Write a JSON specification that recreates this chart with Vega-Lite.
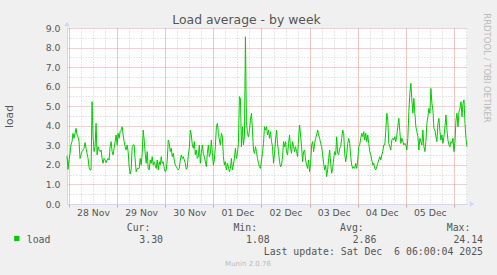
{
"$schema":"https://vega.github.io/schema/vega-lite/v6.json",
"width":400,"height":176,
"autosize":{"type":"none"},
"padding":{"left":67,"top":28,"right":30,"bottom":71},
"background":"#F0F0F0",
"config":{"view":{"fill":"#FFFFFF","stroke":null}},
"data":{"values":[
{"t":"2025-11-27T23:00","v":2.47},{"t":"2025-11-27T23:30","v":1.77},
{"t":"2025-11-28T00:00","v":2.25},{"t":"2025-11-28T00:30","v":2.59},{"t":"2025-11-28T01:00","v":3.02},{"t":"2025-11-28T01:30","v":3.19},{"t":"2025-11-28T02:00","v":3.61},{"t":"2025-11-28T02:30","v":3.36},{"t":"2025-11-28T03:00","v":3.61},{"t":"2025-11-28T03:30","v":3.87},{"t":"2025-11-28T04:00","v":3.53},{"t":"2025-11-28T04:30","v":3.44},{"t":"2025-11-28T05:00","v":3.19},{"t":"2025-11-28T05:30","v":2.33},{"t":"2025-11-28T06:00","v":2.51},{"t":"2025-11-28T06:30","v":2.68},{"t":"2025-11-28T07:00","v":2.76},{"t":"2025-11-28T07:30","v":2.85},{"t":"2025-11-28T08:00","v":3.14},{"t":"2025-11-28T08:30","v":2.85},{"t":"2025-11-28T09:00","v":2.59},{"t":"2025-11-28T09:30","v":2.33},{"t":"2025-11-28T10:00","v":1.87},{"t":"2025-11-28T10:30","v":1.74},{"t":"2025-11-28T11:00","v":1.74},{"t":"2025-11-28T11:30","v":5.23},{"t":"2025-11-28T12:00","v":3.44},{"t":"2025-11-28T12:30","v":2.68},{"t":"2025-11-28T13:00","v":2.93},{"t":"2025-11-28T13:30","v":4.12},{"t":"2025-11-28T14:00","v":2.51},{"t":"2025-11-28T14:30","v":2.93},{"t":"2025-11-28T15:00","v":2.76},{"t":"2025-11-28T15:30","v":2.68},{"t":"2025-11-28T16:00","v":2.76},{"t":"2025-11-28T16:30","v":2.33},{"t":"2025-11-28T17:00","v":2.08},{"t":"2025-11-28T17:30","v":2.33},{"t":"2025-11-28T18:00","v":2.25},{"t":"2025-11-28T18:30","v":2.11},{"t":"2025-11-28T19:00","v":2.25},{"t":"2025-11-28T19:30","v":2.33},{"t":"2025-11-28T20:00","v":2.25},{"t":"2025-11-28T20:30","v":2.93},{"t":"2025-11-28T21:00","v":3.19},{"t":"2025-11-28T21:30","v":2.68},{"t":"2025-11-28T22:00","v":2.51},{"t":"2025-11-28T22:30","v":2.85},{"t":"2025-11-28T23:00","v":3.19},{"t":"2025-11-28T23:30","v":3.53},
{"t":"2025-11-29T00:00","v":3.02},{"t":"2025-11-29T00:30","v":3.61},{"t":"2025-11-29T01:00","v":3.36},{"t":"2025-11-29T01:30","v":3.70},{"t":"2025-11-29T02:00","v":3.78},{"t":"2025-11-29T02:30","v":3.95},{"t":"2025-11-29T03:00","v":3.53},{"t":"2025-11-29T03:30","v":3.19},{"t":"2025-11-29T04:00","v":2.93},{"t":"2025-11-29T04:30","v":2.76},{"t":"2025-11-29T05:00","v":3.02},{"t":"2025-11-29T05:30","v":2.68},{"t":"2025-11-29T06:00","v":1.91},{"t":"2025-11-29T06:30","v":1.53},{"t":"2025-11-29T07:00","v":1.74},{"t":"2025-11-29T07:30","v":2.93},{"t":"2025-11-29T08:00","v":3.02},{"t":"2025-11-29T08:30","v":3.02},{"t":"2025-11-29T09:00","v":2.25},{"t":"2025-11-29T09:30","v":1.65},{"t":"2025-11-29T10:00","v":1.82},{"t":"2025-11-29T10:30","v":1.82},{"t":"2025-11-29T11:00","v":1.82},{"t":"2025-11-29T11:30","v":2.33},{"t":"2025-11-29T12:00","v":1.99},{"t":"2025-11-29T12:30","v":2.59},{"t":"2025-11-29T13:00","v":3.78},{"t":"2025-11-29T13:30","v":3.27},{"t":"2025-11-29T14:00","v":2.59},{"t":"2025-11-29T14:30","v":2.08},{"t":"2025-11-29T15:00","v":2.68},{"t":"2025-11-29T15:30","v":1.82},{"t":"2025-11-29T16:00","v":1.74},{"t":"2025-11-29T16:30","v":2.25},{"t":"2025-11-29T17:00","v":2.08},{"t":"2025-11-29T17:30","v":2.42},{"t":"2025-11-29T18:00","v":1.99},{"t":"2025-11-29T18:30","v":2.16},{"t":"2025-11-29T19:00","v":1.99},{"t":"2025-11-29T19:30","v":1.82},{"t":"2025-11-29T20:00","v":2.25},{"t":"2025-11-29T20:30","v":1.74},{"t":"2025-11-29T21:00","v":2.16},{"t":"2025-11-29T21:30","v":1.99},{"t":"2025-11-29T22:00","v":2.42},{"t":"2025-11-29T22:30","v":2.08},{"t":"2025-11-29T23:00","v":2.16},{"t":"2025-11-29T23:30","v":1.82},
{"t":"2025-11-30T00:00","v":1.65},{"t":"2025-11-30T00:30","v":1.74},{"t":"2025-11-30T01:00","v":2.25},{"t":"2025-11-30T01:30","v":3.27},{"t":"2025-11-30T02:00","v":3.10},{"t":"2025-11-30T02:30","v":2.68},{"t":"2025-11-30T03:00","v":2.85},{"t":"2025-11-30T03:30","v":2.42},{"t":"2025-11-30T04:00","v":2.59},{"t":"2025-11-30T04:30","v":2.25},{"t":"2025-11-30T05:00","v":1.99},{"t":"2025-11-30T05:30","v":1.91},{"t":"2025-11-30T06:00","v":1.82},{"t":"2025-11-30T06:30","v":1.74},{"t":"2025-11-30T07:00","v":1.82},{"t":"2025-11-30T07:30","v":2.25},{"t":"2025-11-30T08:00","v":2.51},{"t":"2025-11-30T08:30","v":2.33},{"t":"2025-11-30T09:00","v":2.42},{"t":"2025-11-30T09:30","v":2.25},{"t":"2025-11-30T10:00","v":2.08},{"t":"2025-11-30T10:30","v":1.77},{"t":"2025-11-30T11:00","v":1.87},{"t":"2025-11-30T11:30","v":2.51},{"t":"2025-11-30T12:00","v":2.85},{"t":"2025-11-30T12:30","v":3.78},{"t":"2025-11-30T13:00","v":3.53},{"t":"2025-11-30T13:30","v":3.02},{"t":"2025-11-30T14:00","v":2.85},{"t":"2025-11-30T14:30","v":3.19},{"t":"2025-11-30T15:00","v":2.51},{"t":"2025-11-30T15:30","v":2.76},{"t":"2025-11-30T16:00","v":2.33},{"t":"2025-11-30T16:30","v":2.42},{"t":"2025-11-30T17:00","v":3.02},{"t":"2025-11-30T17:30","v":2.08},{"t":"2025-11-30T18:00","v":2.59},{"t":"2025-11-30T18:30","v":3.02},{"t":"2025-11-30T19:00","v":2.59},{"t":"2025-11-30T19:30","v":2.42},{"t":"2025-11-30T20:00","v":2.16},{"t":"2025-11-30T20:30","v":1.91},{"t":"2025-11-30T21:00","v":2.59},{"t":"2025-11-30T21:30","v":3.02},{"t":"2025-11-30T22:00","v":2.42},{"t":"2025-11-30T22:30","v":2.59},{"t":"2025-11-30T23:00","v":3.27},{"t":"2025-11-30T23:30","v":2.59},
{"t":"2025-12-01T00:00","v":1.99},{"t":"2025-12-01T00:30","v":2.25},{"t":"2025-12-01T01:00","v":2.93},{"t":"2025-12-01T01:30","v":3.95},{"t":"2025-12-01T02:00","v":4.12},{"t":"2025-12-01T02:30","v":3.61},{"t":"2025-12-01T03:00","v":3.27},{"t":"2025-12-01T03:30","v":3.02},{"t":"2025-12-01T04:00","v":3.61},{"t":"2025-12-01T04:30","v":3.44},{"t":"2025-12-01T05:00","v":2.42},{"t":"2025-12-01T05:30","v":1.99},{"t":"2025-12-01T06:00","v":2.16},{"t":"2025-12-01T06:30","v":1.74},{"t":"2025-12-01T07:00","v":2.08},{"t":"2025-12-01T07:30","v":1.91},{"t":"2025-12-01T08:00","v":1.65},{"t":"2025-12-01T08:30","v":1.82},{"t":"2025-12-01T09:00","v":2.33},{"t":"2025-12-01T09:30","v":1.74},{"t":"2025-12-01T10:00","v":1.99},{"t":"2025-12-01T10:30","v":2.33},{"t":"2025-12-01T11:00","v":2.85},{"t":"2025-12-01T11:30","v":2.33},{"t":"2025-12-01T12:00","v":2.59},{"t":"2025-12-01T12:30","v":3.10},{"t":"2025-12-01T13:00","v":5.49},{"t":"2025-12-01T13:30","v":5.40},{"t":"2025-12-01T14:00","v":2.93},{"t":"2025-12-01T14:30","v":3.95},{"t":"2025-12-01T15:00","v":3.02},{"t":"2025-12-01T15:30","v":3.44},{"t":"2025-12-01T16:00","v":8.55},{"t":"2025-12-01T16:30","v":4.21},{"t":"2025-12-01T17:00","v":3.61},{"t":"2025-12-01T17:30","v":3.44},{"t":"2025-12-01T18:00","v":3.78},{"t":"2025-12-01T18:30","v":4.29},{"t":"2025-12-01T19:00","v":4.64},{"t":"2025-12-01T19:30","v":3.78},{"t":"2025-12-01T20:00","v":2.76},{"t":"2025-12-01T20:30","v":2.59},{"t":"2025-12-01T21:00","v":2.93},{"t":"2025-12-01T21:30","v":2.68},{"t":"2025-12-01T22:00","v":2.33},{"t":"2025-12-01T22:30","v":2.08},{"t":"2025-12-01T23:00","v":1.91},{"t":"2025-12-01T23:30","v":1.82},
{"t":"2025-12-02T00:00","v":2.25},{"t":"2025-12-02T00:30","v":2.59},{"t":"2025-12-02T01:00","v":3.10},{"t":"2025-12-02T01:30","v":3.95},{"t":"2025-12-02T02:00","v":3.78},{"t":"2025-12-02T02:30","v":3.95},{"t":"2025-12-02T03:00","v":3.53},{"t":"2025-12-02T03:30","v":3.78},{"t":"2025-12-02T04:00","v":3.36},{"t":"2025-12-02T04:30","v":3.70},{"t":"2025-12-02T05:00","v":3.19},{"t":"2025-12-02T05:30","v":2.93},{"t":"2025-12-02T06:00","v":2.08},{"t":"2025-12-02T06:30","v":2.59},{"t":"2025-12-02T07:00","v":3.27},{"t":"2025-12-02T07:30","v":3.78},{"t":"2025-12-02T08:00","v":3.10},{"t":"2025-12-02T08:30","v":2.68},{"t":"2025-12-02T09:00","v":2.16},{"t":"2025-12-02T09:30","v":1.91},{"t":"2025-12-02T10:00","v":1.99},{"t":"2025-12-02T10:30","v":2.42},{"t":"2025-12-02T11:00","v":3.19},{"t":"2025-12-02T11:30","v":2.93},{"t":"2025-12-02T12:00","v":3.19},{"t":"2025-12-02T12:30","v":2.68},{"t":"2025-12-02T13:00","v":2.51},{"t":"2025-12-02T13:30","v":3.10},{"t":"2025-12-02T14:00","v":3.53},{"t":"2025-12-02T14:30","v":2.85},{"t":"2025-12-02T15:00","v":2.59},{"t":"2025-12-02T15:30","v":3.19},{"t":"2025-12-02T16:00","v":2.93},{"t":"2025-12-02T16:30","v":2.68},{"t":"2025-12-02T17:00","v":2.93},{"t":"2025-12-02T17:30","v":2.68},{"t":"2025-12-02T18:00","v":2.42},{"t":"2025-12-02T18:30","v":3.36},{"t":"2025-12-02T19:00","v":4.04},{"t":"2025-12-02T19:30","v":3.53},{"t":"2025-12-02T20:00","v":2.93},{"t":"2025-12-02T20:30","v":2.16},{"t":"2025-12-02T21:00","v":2.68},{"t":"2025-12-02T21:30","v":2.76},{"t":"2025-12-02T22:00","v":2.25},{"t":"2025-12-02T22:30","v":1.99},{"t":"2025-12-02T23:00","v":1.82},{"t":"2025-12-02T23:30","v":2.25},
{"t":"2025-12-03T00:00","v":1.65},{"t":"2025-12-03T00:30","v":2.08},{"t":"2025-12-03T01:00","v":3.02},{"t":"2025-12-03T01:30","v":3.19},{"t":"2025-12-03T02:00","v":2.68},{"t":"2025-12-03T02:30","v":3.10},{"t":"2025-12-03T03:00","v":3.36},{"t":"2025-12-03T03:30","v":3.53},{"t":"2025-12-03T04:00","v":3.78},{"t":"2025-12-03T04:30","v":3.53},{"t":"2025-12-03T05:00","v":3.36},{"t":"2025-12-03T05:30","v":3.10},{"t":"2025-12-03T06:00","v":2.93},{"t":"2025-12-03T06:30","v":2.51},{"t":"2025-12-03T07:00","v":2.08},{"t":"2025-12-03T07:30","v":1.74},{"t":"2025-12-03T08:00","v":1.99},{"t":"2025-12-03T08:30","v":1.40},{"t":"2025-12-03T09:00","v":1.74},{"t":"2025-12-03T09:30","v":2.33},{"t":"2025-12-03T10:00","v":2.76},{"t":"2025-12-03T10:30","v":2.08},{"t":"2025-12-03T11:00","v":1.57},{"t":"2025-12-03T11:30","v":1.82},{"t":"2025-12-03T12:00","v":2.33},{"t":"2025-12-03T12:30","v":2.68},{"t":"2025-12-03T13:00","v":2.51},{"t":"2025-12-03T13:30","v":3.44},{"t":"2025-12-03T14:00","v":2.59},{"t":"2025-12-03T14:30","v":2.51},{"t":"2025-12-03T15:00","v":2.85},{"t":"2025-12-03T15:30","v":2.93},{"t":"2025-12-03T16:00","v":3.36},{"t":"2025-12-03T16:30","v":3.78},{"t":"2025-12-03T17:00","v":3.61},{"t":"2025-12-03T17:30","v":2.59},{"t":"2025-12-03T18:00","v":2.16},{"t":"2025-12-03T18:30","v":2.51},{"t":"2025-12-03T19:00","v":3.10},{"t":"2025-12-03T19:30","v":3.36},{"t":"2025-12-03T20:00","v":3.10},{"t":"2025-12-03T20:30","v":2.42},{"t":"2025-12-03T21:00","v":1.99},{"t":"2025-12-03T21:30","v":1.82},{"t":"2025-12-03T22:00","v":1.91},{"t":"2025-12-03T22:30","v":1.82},{"t":"2025-12-03T23:00","v":2.08},{"t":"2025-12-03T23:30","v":1.82},
{"t":"2025-12-04T00:00","v":2.25},{"t":"2025-12-04T00:30","v":2.93},{"t":"2025-12-04T01:00","v":3.02},{"t":"2025-12-04T01:30","v":3.36},{"t":"2025-12-04T02:00","v":3.61},{"t":"2025-12-04T02:30","v":3.44},{"t":"2025-12-04T03:00","v":3.70},{"t":"2025-12-04T03:30","v":3.27},{"t":"2025-12-04T04:00","v":3.61},{"t":"2025-12-04T04:30","v":3.19},{"t":"2025-12-04T05:00","v":3.53},{"t":"2025-12-04T05:30","v":3.10},{"t":"2025-12-04T06:00","v":2.68},{"t":"2025-12-04T06:30","v":2.51},{"t":"2025-12-04T07:00","v":2.25},{"t":"2025-12-04T07:30","v":1.99},{"t":"2025-12-04T08:00","v":2.08},{"t":"2025-12-04T08:30","v":1.82},{"t":"2025-12-04T09:00","v":1.74},{"t":"2025-12-04T09:30","v":1.91},{"t":"2025-12-04T10:00","v":2.08},{"t":"2025-12-04T10:30","v":2.25},{"t":"2025-12-04T11:00","v":2.42},{"t":"2025-12-04T11:30","v":2.25},{"t":"2025-12-04T12:00","v":2.51},{"t":"2025-12-04T12:30","v":2.68},{"t":"2025-12-04T13:00","v":3.02},{"t":"2025-12-04T13:30","v":3.02},{"t":"2025-12-04T14:00","v":3.78},{"t":"2025-12-04T14:30","v":4.64},{"t":"2025-12-04T15:00","v":4.29},{"t":"2025-12-04T15:30","v":3.10},{"t":"2025-12-04T16:00","v":2.93},{"t":"2025-12-04T16:30","v":2.76},{"t":"2025-12-04T17:00","v":3.27},{"t":"2025-12-04T17:30","v":3.36},{"t":"2025-12-04T18:00","v":3.27},{"t":"2025-12-04T18:30","v":3.44},{"t":"2025-12-04T19:00","v":3.19},{"t":"2025-12-04T19:30","v":3.53},{"t":"2025-12-04T20:00","v":3.95},{"t":"2025-12-04T20:30","v":4.38},{"t":"2025-12-04T21:00","v":3.70},{"t":"2025-12-04T21:30","v":3.10},{"t":"2025-12-04T22:00","v":3.36},{"t":"2025-12-04T22:30","v":3.19},{"t":"2025-12-04T23:00","v":3.02},{"t":"2025-12-04T23:30","v":3.10},
{"t":"2025-12-05T00:00","v":3.02},{"t":"2025-12-05T00:30","v":2.76},{"t":"2025-12-05T01:00","v":3.36},{"t":"2025-12-05T01:30","v":4.72},{"t":"2025-12-05T02:00","v":5.66},{"t":"2025-12-05T02:30","v":6.17},{"t":"2025-12-05T03:00","v":5.32},{"t":"2025-12-05T03:30","v":4.64},{"t":"2025-12-05T04:00","v":5.40},{"t":"2025-12-05T04:30","v":4.64},{"t":"2025-12-05T05:00","v":3.95},{"t":"2025-12-05T05:30","v":3.70},{"t":"2025-12-05T06:00","v":3.44},{"t":"2025-12-05T06:30","v":2.76},{"t":"2025-12-05T07:00","v":3.36},{"t":"2025-12-05T07:30","v":3.19},{"t":"2025-12-05T08:00","v":3.02},{"t":"2025-12-05T08:30","v":3.78},{"t":"2025-12-05T09:00","v":2.93},{"t":"2025-12-05T09:30","v":2.68},{"t":"2025-12-05T10:00","v":3.19},{"t":"2025-12-05T10:30","v":4.12},{"t":"2025-12-05T11:00","v":4.46},{"t":"2025-12-05T11:30","v":4.89},{"t":"2025-12-05T12:00","v":4.64},{"t":"2025-12-05T12:30","v":5.91},{"t":"2025-12-05T13:00","v":5.15},{"t":"2025-12-05T13:30","v":4.81},{"t":"2025-12-05T14:00","v":3.87},{"t":"2025-12-05T14:30","v":3.78},{"t":"2025-12-05T15:00","v":3.44},{"t":"2025-12-05T15:30","v":3.19},{"t":"2025-12-05T16:00","v":4.12},{"t":"2025-12-05T16:30","v":4.38},{"t":"2025-12-05T17:00","v":3.70},{"t":"2025-12-05T17:30","v":3.27},{"t":"2025-12-05T18:00","v":3.53},{"t":"2025-12-05T18:30","v":3.10},{"t":"2025-12-05T19:00","v":3.44},{"t":"2025-12-05T19:30","v":3.95},{"t":"2025-12-05T20:00","v":4.55},{"t":"2025-12-05T20:30","v":3.78},{"t":"2025-12-05T21:00","v":3.27},{"t":"2025-12-05T21:30","v":3.02},{"t":"2025-12-05T22:00","v":2.93},{"t":"2025-12-05T22:30","v":3.19},{"t":"2025-12-05T23:00","v":3.10},{"t":"2025-12-05T23:30","v":3.36},
{"t":"2025-12-06T00:00","v":2.68},{"t":"2025-12-06T00:30","v":3.19},{"t":"2025-12-06T01:00","v":4.29},{"t":"2025-12-06T01:30","v":4.64},{"t":"2025-12-06T02:00","v":3.95},{"t":"2025-12-06T02:30","v":4.72},{"t":"2025-12-06T03:00","v":4.89},{"t":"2025-12-06T03:30","v":5.23},{"t":"2025-12-06T04:00","v":4.46},{"t":"2025-12-06T04:30","v":5.15},{"t":"2025-12-06T05:00","v":5.32},{"t":"2025-12-06T05:30","v":4.12},{"t":"2025-12-06T06:00","v":3.36},{"t":"2025-12-06T06:30","v":2.93}
]},
"resolve":{"axis":{"x":"independent","y":"independent"}},
"layer":[
{
 "mark":{"type":"line","opacity":0},
 "encoding":{
  "x":{"field":"t","type":"temporal","axis":{"orient":"bottom","title":null,"tickCount":40,"grid":true,"gridColor":"#D0D0D0","gridDash":[1,2],"labels":false,"ticks":false,"domain":false}},
  "y":{"field":"v","type":"quantitative","scale":{"domain":[0,9]},"axis":{"orient":"left","title":null,"values":[0.5,1.5,2.5,3.5,4.5,5.5,6.5,7.5,8.5],"grid":true,"gridColor":"#D0D0D0","gridDash":[1,2],"labels":false,"ticks":false,"domain":false}}
 }},
{
 "mark":{"type":"line","color":"#00CC00","strokeWidth":1},
 "encoding":{
  "x":{"field":"t","type":"temporal","axis":{"orient":"bottom","title":null,"format":"%d %b","labelOffset":24,"labelBound":true,"labelPadding":1,"labelFont":"DejaVu Sans","labelFontSize":9.3,"labelColor":"#555555","grid":true,"gridColor":"#EE9A9A","gridDash":[1,1],"ticks":true,"tickSize":3,"tickColor":"#EE9A9A","domainColor":"#CFD6F8"}},
  "y":{"field":"v","type":"quantitative","scale":{"domain":[0,9]},"axis":{"orient":"left","title":"load","titleFont":"DejaVu Sans","titleFontSize":10.7,"titleFontWeight":"normal","titleColor":"#555555","titlePadding":31,"format":".1f","values":[0,1,2,3,4,5,6,7,8,9],"labelFont":"DejaVu Sans","labelFontSize":9.3,"labelColor":"#555555","labelPadding":7,"ticks":false,"grid":true,"gridColor":"#EE9A9A","gridDash":[1,1],"domainColor":"#CFD6F8"}}
 }},
{"data":{"values":[{}]},"mark":{"type":"text","align":"center","baseline":"alphabetic","font":"DejaVu Sans","fontSize":12.4,"color":"#555555"},"encoding":{"x":{"value":179.5},"y":{"value":-4},"text":{"value":"Load average - by week"}}},
{"data":{"values":[{}]},"mark":{"type":"point","shape":"triangle-up","filled":true,"size":30,"color":"#CFD6F8","opacity":1},"encoding":{"x":{"value":0},"y":{"value":-4}}},
{"data":{"values":[{}]},"mark":{"type":"point","shape":"triangle-right","filled":true,"size":30,"color":"#CFD6F8","opacity":1},"encoding":{"x":{"value":405},"y":{"value":176}}},
{"data":{"values":[{}]},"mark":{"type":"text","align":"left","baseline":"middle","font":"DejaVu Sans Mono","fontSize":9.85,"color":"#555555"},"encoding":{"x":{"value":59.7},"y":{"value":199.7},"text":{"value":"Cur:\u00a0\u00a0\u00a0\u00a0\u00a0\u00a0\u00a0\u00a0\u00a0\u00a0\u00a0\u00a0\u00a0\u00a0Min:\u00a0\u00a0\u00a0\u00a0\u00a0\u00a0\u00a0\u00a0\u00a0\u00a0\u00a0\u00a0\u00a0\u00a0Avg:\u00a0\u00a0\u00a0\u00a0\u00a0\u00a0\u00a0\u00a0\u00a0\u00a0\u00a0\u00a0\u00a0\u00a0Max:"}}},
{"data":{"values":[{}]},"mark":{"type":"text","align":"left","baseline":"middle","font":"DejaVu Sans Mono","fontSize":9.85,"color":"#555555"},"encoding":{"x":{"value":-40.3},"y":{"value":211.7},"text":{"value":"load\u00a0\u00a0\u00a0\u00a0\u00a0\u00a0\u00a0\u00a0\u00a0\u00a0\u00a0\u00a0\u00a0\u00a0\u00a03.30\u00a0\u00a0\u00a0\u00a0\u00a0\u00a0\u00a0\u00a0\u00a0\u00a0\u00a0\u00a0\u00a0\u00a01.08\u00a0\u00a0\u00a0\u00a0\u00a0\u00a0\u00a0\u00a0\u00a0\u00a0\u00a0\u00a0\u00a0\u00a02.86\u00a0\u00a0\u00a0\u00a0\u00a0\u00a0\u00a0\u00a0\u00a0\u00a0\u00a0\u00a0\u00a024.14"}}},
{"data":{"values":[{}]},"mark":{"type":"point","shape":"square","filled":true,"size":28,"color":"#00CC00","opacity":1},"encoding":{"x":{"value":-50.2},"y":{"value":210.5}}},
{"data":{"values":[{}]},"mark":{"type":"text","align":"right","baseline":"middle","font":"DejaVu Sans Mono","fontSize":9.85,"color":"#555555"},"encoding":{"x":{"value":416},"y":{"value":223.7},"text":{"value":"Last update: Sat Dec \u00a06 06:00:04 2025"}}},
{"data":{"values":[{}]},"mark":{"type":"text","align":"center","baseline":"middle","font":"DejaVu Sans","fontSize":7,"color":"#BBBBBB"},"encoding":{"x":{"value":181},"y":{"value":236},"text":{"value":"Munin 2.0.76"}}},
{"data":{"values":[{}]},"mark":{"type":"text","align":"center","baseline":"middle","angle":90,"font":"DejaVu Sans","fontSize":8.5,"color":"#BBBBBB"},"encoding":{"x":{"value":420},"y":{"value":40},"text":{"value":"RRDTOOL / TOBI OETIKER"}}}
]
}
